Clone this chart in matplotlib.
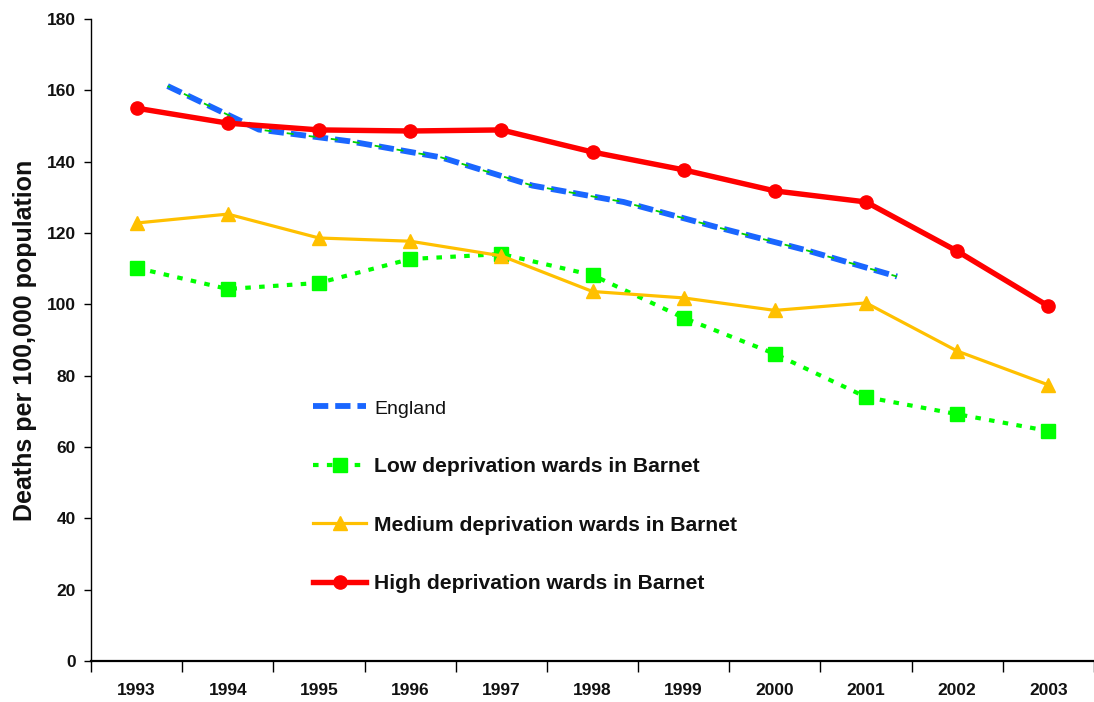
# Barnet deaths per 100,000 by ward deprivation, 1993-2003, with England for comparison

import matplotlib
matplotlib.use("Agg")
import matplotlib.pyplot as plt
import numpy as np

plt.rcParams['lines.scale_dashes'] = False

# data
years = ['1993', '1994', '1995', '1996', '1997', '1998', '1999', '2000', '2001', '2002', '2003']
high = [155.0, 150.8, 148.9, 148.6, 148.9, 142.7, 137.7, 131.8, 128.7, 114.9, 99.5]
medium = [122.8, 125.3, 118.6, 117.7, 113.6, 103.6, 101.8, 98.3, 100.4, 86.9, 77.4]
low = [110.2, 104.3, 106.0, 112.7, 114.1, 108.2, 96.2, 86.1, 74.0, 69.2, 64.5]
england_years = ['1993', '1994', '1995', '1996', '1997', '1998', '1999', '2000', '2001']
england = [161.2, 149.0, 145.7, 141.2, 133.3, 128.7, 121.8, 115.2, 107.8]
england_shift = 0.34   # England series sits a third of a category to the right

labels = ['England', 'Low deprivation wards in Barnet',
          'Medium deprivation wards in Barnet', 'High deprivation wards in Barnet']

x = np.arange(len(years))
xe = np.array([years.index(y) for y in england_years]) + england_shift

fig = plt.figure(figsize=(10.94, 7.02), dpi=100)
ax = fig.add_axes([91/1094, 41/702, 1003/1094, 642/702])

# England: blue dashes with a thin green core
eng, = ax.plot(xe, england, color='#1a66ff', lw=4.2, linestyle=(0, (11, 5)),
               dash_capstyle='butt', zorder=2, label=labels[0])
ax.plot(xe, england, color='#00d000', lw=1.3, linestyle=(3, (5, 11)),
        dash_capstyle='butt', zorder=2.1)

lo, = ax.plot(x, low, color='#00ff00', lw=3, linestyle=(0, (4, 6)), marker='s',
              markersize=9.5, zorder=3, label=labels[1])
me, = ax.plot(x, medium, color='#ffc000', lw=2.3, marker='^', markersize=10,
              zorder=4, label=labels[2])
hi, = ax.plot(x, high, color='#ff0000', lw=3.9, marker='o', markersize=9.5,
              zorder=5, label=labels[3])

ax.set_xlim(-0.5, 10.4)
ax.set_ylim(0, 180)
ax.set_yticks(np.arange(0, 181, 20))

# category boundaries get the tick marks, labels sit in the middle
ax.set_xticks(np.arange(-0.5, 10.6, 1.0))
ax.set_xticklabels([])
ax.set_xticks(x, minor=True)
ax.set_xticklabels(years, minor=True)
ax.tick_params(axis='x', which='major', length=8, width=1, direction='out')
ax.tick_params(axis='x', which='minor', length=0, pad=16)
ax.tick_params(axis='y', length=5, width=1, direction='out', pad=6)

for t in ax.get_xticklabels(minor=True) + ax.get_yticklabels():
    t.set_fontfamily('Liberation Sans')
    t.set_fontweight('bold')
    t.set_fontsize(12.5)
    t.set_color('#111111')

ax.set_ylabel('Deaths per 100,000 population', fontfamily='Liberation Sans',
              fontweight='bold', fontsize=18, color='#111111', labelpad=7)

for s in ['top', 'right']:
    ax.spines[s].set_visible(False)
ax.spines['left'].set_linewidth(1)
ax.spines['bottom'].set_linewidth(1.6)

leg = ax.legend(handles=[eng, lo, me, hi], loc='upper left',
                bbox_to_anchor=(0.221, 0.408), frameon=False, borderpad=0,
                borderaxespad=0, handlelength=2.55, handletextpad=0.35,
                labelspacing=1.87, numpoints=1,
                prop=dict(family='Liberation Sans', weight='bold', size=15.2))
for t in leg.get_texts():
    t.set_color('#111111')
leg.get_texts()[0].set_fontweight('normal')
leg.get_texts()[0].set_fontsize(14)

fig.savefig('out.png', dpi=100)
